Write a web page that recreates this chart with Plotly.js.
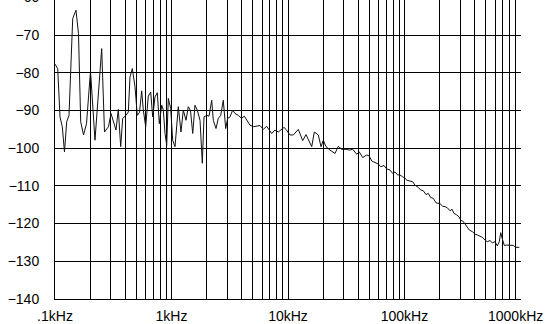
<!DOCTYPE html>
<html>
<head>
<meta charset="utf-8">
<script src="https://cdn.plot.ly/plotly-3.0.1.min.js"></script>
<style>html,body{margin:0;padding:0;background:#fff;}#chart{width:545px;height:324px;}</style>
</head>
<body>
<div id="chart"></div>
<script>
// Frequency in kHz
const freqKHz = [
0.1000,0.1055,0.1104,0.1155,0.1206,0.1260,0.1319,0.1419,0.1514,0.1591,
0.1662,0.1757,0.1864,0.2017,0.2204,0.2517,0.2660,0.2879,0.3025,0.3165,
0.3339,0.3494,0.3664,0.3812,0.4068,0.4258,0.4403,0.4608,0.4861,0.5087,
0.5313,0.5549,0.5727,0.6004,0.6323,0.6630,0.6897,0.7218,0.7553,0.7860,
0.8241,0.8505,0.8796,0.9096,0.9387,0.9842,1.024,1.072,1.144,1.206,
1.263,1.332,1.394,1.456,1.521,1.591,1.665,1.757,1.838,1.901,
2.005,2.099,2.214,2.285,2.410,2.521,2.644,2.783,2.919,3.037,
3.178,3.352,3.508,3.745,4.005,4.216,4.473,4.719,5.036,5.386,
5.750,6.138,6.564,7.246,7.733,8.253,9.240,9.610,10.40,11.11,
12.26,13.37,14.27,15.98,16.82,18.20,19.20,20.09,21.20,22.94,
25.32,27.03,28.90,31.47,33.60,35.93,38.88,40.93,43.77,47.37,
49.88,52.30,55.83,59.59,62.48,66.68,70.35,75.08,79.20,82.89,
87.43,91.50,96.50,101.6,104.4,111.5,117.6,123.1,131.4,137.7,
145.0,152.9,160.1,167.9,176.7,186.4,201.7,212.8,222.7,233.0,
245.8,255.7,266.0,280.6,293.7,305.5,315.9,330.6,346.0,359.9,
384.9,402.9,421.6,444.7,469.0,490.9,513.7,541.9,567.1,598.2,
626.0,651.2,669.5,696.4,718.9,753.8,804.6,858.9,906.1,967.0
];
// Level in dB
const levelDB = [
-77.7,-78.9,-91.7,-94.3,-101,-93,-91.3,-65.6,-63.4,-69.6,
-93,-96.5,-93.5,-79.5,-97.9,-73.6,-95.7,-94.3,-90.8,-92.6,
-95.2,-89.7,-99.6,-92.1,-91.3,-90.4,-81.1,-78.9,-83.7,-91.3,
-90.5,-84.8,-89.9,-94.3,-86.2,-85.1,-91.7,-86.4,-85.3,-93.5,
-88.6,-89.9,-96.1,-99.2,-86.8,-89.5,-97.9,-99.6,-89,-95.7,
-89.9,-92.6,-89,-90,-96.1,-88.6,-89.9,-92.6,-104,-91.7,
-91.3,-91.5,-87.3,-92.6,-94.8,-92.1,-91.3,-87.3,-94.8,-92.1,
-91.7,-89.9,-90.8,-91.3,-92.1,-91.5,-92.8,-93.9,-94.3,-94.2,
-94,-95,-94.2,-96.1,-95.2,-95.7,-94.5,-95,-96.5,-96.5,
-95,-98,-96.4,-99.6,-95.7,-96.5,-99.6,-97.9,-99.6,-100.5,
-101.4,-99.5,-100.3,-100.3,-100.5,-100.3,-101.6,-101,-102.5,-101.8,
-102.1,-103.4,-103.8,-104.2,-104.9,-104.6,-105.5,-105.8,-106.7,-106.3,
-107.1,-107.1,-107.6,-108,-108.5,-108.7,-108.9,-109.8,-110.4,-111.1,
-111.3,-112.3,-112,-113.1,-113.3,-114.5,-114.7,-115.4,-115.5,-115.8,
-116.6,-116.2,-117.3,-117.7,-118.2,-119.2,-119.3,-120.1,-120.8,-121.7,
-122.2,-122.8,-123,-123.3,-123.7,-124.4,-124.8,-124.5,-125.1,-124.8,
-125.9,-124.8,-122.4,-124.4,-125.8,-125.7,-125.8,-125.8,-126.3,-126.3
];
const decades = [0.1, 1, 10, 100, 1000];
const decadeLabels = [".1kHz", "1kHz", "10kHz", "100kHz", "1000kHz"];
const yTicks = [-140, -130, -120, -110, -100, -90, -80, -70];
const yTopLabel = "-60";

// grid positions: decades plus 2..9 multiples; the last decade label is drawn
// as an annotation so it can sit flush against the right edge like the original
const xTickVals = [], xTickText = [];
decades.forEach((d, i) => {
  xTickVals.push(d); xTickText.push(i < decades.length - 1 ? decadeLabels[i] : "");
  if (i < decades.length - 1) {
    for (let m = 2; m <= 9; m++) { xTickVals.push(d * m); xTickText.push(""); }
  }
});

const font = {family: "Liberation Sans, Arial, sans-serif", size: 14, color: "#000"};

Plotly.newPlot("chart", [{
  x: freqKHz, y: levelDB, type: "scatter", mode: "lines",
  line: {color: "#111", width: 1}, hoverinfo: "skip"
}], {
  width: 545, height: 324,
  margin: {l: 55, r: 24, t: 0, b: 25, pad: 0},
  paper_bgcolor: "#fff", plot_bgcolor: "#fff",
  showlegend: false,
  font: font,
  xaxis: {
    type: "log", range: [-1, 3],
    tickmode: "array", tickvals: xTickVals, ticktext: xTickText,
    showgrid: true, gridcolor: "#000", gridwidth: 1,
    showline: true, linecolor: "#000", linewidth: 1,
    zeroline: false, ticks: "", tickfont: font, ticklabelstandoff: 4
  },
  yaxis: {
    range: [-140, -60.7],
    tickmode: "array", tickvals: yTicks,
    showgrid: true, gridcolor: "#000", gridwidth: 1,
    showline: true, linecolor: "#000", linewidth: 1,
    zeroline: false, ticks: "", tickfont: font, ticklabelstandoff: 12
  },
  annotations: [{
    text: yTopLabel, xref: "paper", yref: "paper", x: 0, y: 1,
    xanchor: "right", yanchor: "middle", xshift: -14, yshift: 3,
    showarrow: false, font: font
  }, {
    text: decadeLabels[decadeLabels.length - 1], xref: "paper", yref: "paper", x: 1, y: 0,
    xanchor: "right", yanchor: "top", xshift: 24, yshift: -7,
    showarrow: false, font: font
  }]
}, {staticPlot: true, displayModeBar: false});
</script>
</body>
</html>
